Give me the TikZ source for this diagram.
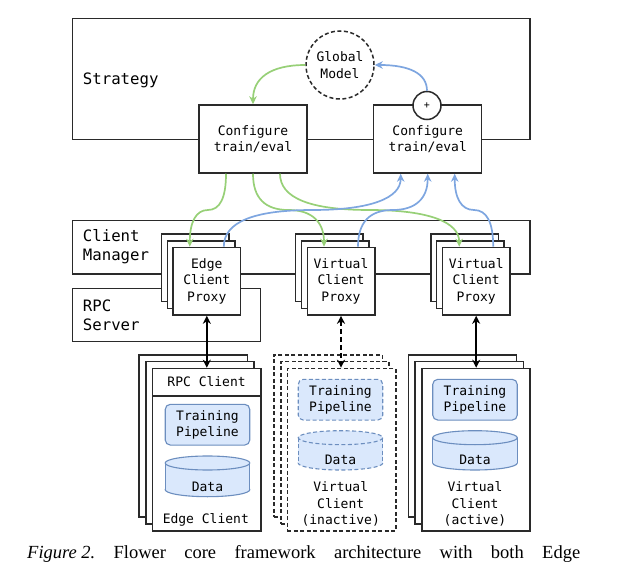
\documentclass[tikz,border=0pt]{standalone}
\usepackage{fontspec}
\setmainfont{Liberation Serif}
\setmonofont{DejaVu Sans Mono}
\usetikzlibrary{arrows.meta,calc,positioning}

\definecolor{pushgreen}{HTML}{97D077}
\definecolor{pullblue}{HTML}{7EA6E0}
\definecolor{pipefill}{HTML}{DAE8FC}
\definecolor{pipeedge}{HTML}{6C8EBF}
\definecolor{edgeline}{HTML}{2A2A2A}

\tikzset{
  box/.style={draw=edgeline, line width=1.5pt, fill=white, inner sep=0pt},
  layer/.style={box, anchor=north west},
  heading/.style={anchor=west, align=left, inner sep=0pt, font=\ttfamily\fontsize{15.7}{19}\selectfont},
  pipe/.style={draw=pipeedge, fill=pipefill, line width=1.1pt, rounded corners=5pt, align=center,
    minimum width=84.5, minimum height=40.7, inner sep=0pt},
  push/.style={draw=pushgreen, line width=1.7pt, -{Stealth[length=8pt,width=7.5pt,inset=2.5pt]}},
  pull/.style={draw=pullblue, line width=1.7pt, -{Stealth[length=8pt,width=7.5pt,inset=2.5pt]}},
  link/.style={draw=black, line width=1.9pt,
    arrows={Stealth[length=8pt,width=8pt,inset=2.5pt]-Stealth[length=8pt,width=8pt,inset=2.5pt]}},
  lazy/.style={dash pattern=on 4pt off 2.5pt},
}

\begin{document}
\begin{tikzpicture}[x=1pt, y=-1pt, font=\ttfamily\fontsize{13}{16.3}\selectfont]
\useasboundingbox (0,0) rectangle (619,575);

% server side layers
\node[layer, minimum width=457.5, minimum height=121] (strategy) at (71.5,17.7) {};
\node[heading] (strategy-lbl) at (82.7,80) {Strategy};
\node[layer, minimum width=457.5, minimum height=53] (manager) at (71.5,220) {};
\node[heading] (manager-lbl) at (82.7,247) {Client\\Manager};
\node[layer, minimum width=188, minimum height=53] (rpcserver) at (71.5,287.5) {};
\node[heading] (rpcserver-lbl) at (82.7,315) {RPC\\Server};

\node[box, minimum width=108, minimum height=68, align=center] (cfg-a) at (253,139) {Configure\\train/eval};
\node[box, minimum width=108, minimum height=68, align=center] (cfg-b) at (427.7,139) {Configure\\train/eval};
\node[box, circle, lazy, minimum size=68, align=center] (global) at (340,65) {Global\\Model};
\node[box, circle, minimum size=28] (agg) at (427,105.5) {\fontsize{10}{10}\selectfont+};

% client proxies
\foreach \who/\xl/\txt in {edge/172.3/{Edge\\Client\\Proxy}, vlazy/306.5/{Virtual\\Client\\Proxy}, vbusy/441.7/{Virtual\\Client\\Proxy}} {
  \foreach \k in {2,1}
    \node[layer, minimum width=67.5, minimum height=67.6] (px-\who-\k) at (\xl-5.8*\k, 246.7-6.7*\k) {};
  \node[layer, minimum width=67.5, minimum height=67.6, align=center] (px-\who) at (\xl,246.7) {\txt};
}

% clients
\foreach \who/\xl/\look in {edge/151.7/solid, vlazy/286.7/lazy, vbusy/421/solid} {
  \foreach \k in {2,1}
    \node[layer, \look, minimum width=108.3, minimum height=162.3] (cl-\who-\k) at (\xl-6.7*\k, 367.7-6.8*\k) {};
  \node[layer, \look, minimum width=108.3, minimum height=162.3] (cl-\who) at (\xl,367.7) {};
}
\node[layer, minimum width=108.3, minimum height=27.3] (rpc-client) at (151.7,367.7) {RPC Client};

\node[pipe] (tp-edge) at (207.5,424.7) {Training\\Pipeline};
\node[pipe, lazy] (tp-vlazy) at (340.5,399.7) {Training\\Pipeline};
\node[pipe] (tp-vbusy) at (475,399.7) {Training\\Pipeline};

\foreach \who/\cx/\ytop/\ybot/\look in {edge/207.5/456/496.7/solid, vlazy/340.5/430.7/470/lazy, vbusy/475/430.7/470/solid} {
  \draw[draw=pipeedge, fill=pipefill, line width=1.1pt, \look] (\cx,\ybot-7) ellipse [x radius=42.3, y radius=7];
  \fill[pipefill] (\cx-42.3,\ytop+7) rectangle (\cx+42.3,\ybot-7);
  \draw[pipeedge, line width=1.1pt, \look] (\cx-42.3,\ytop+7) -- (\cx-42.3,\ybot-7) (\cx+42.3,\ytop+7) -- (\cx+42.3,\ybot-7);
  \draw[draw=pipeedge, fill=pipefill, line width=1.1pt, \look] (\cx,\ytop+7) ellipse [x radius=42.3, y radius=7];
  \node (data-\who) at (\cx,\ybot-10) {Data};
}

\node[align=center] (cl-edge-lbl) at (205.8,520) {Edge Client};
\node[align=center] (cl-vlazy-lbl) at (340.7,504) {Virtual\\Client\\(inactive)};
\node[align=center] (cl-vbusy-lbl) at (475,504) {Virtual\\Client\\(active)};

% global model loop
\coordinate (knee-a) at (cfg-a.north |- global.west);
\coordinate (knee-b) at (agg.north |- global.east);
\draw[push] (global.west) .. controls ($(global.west)!2/3!(knee-a)$) and ($(cfg-a.north)!2/3!(knee-a)$) .. (cfg-a.north);
\draw[pull] (agg.north) .. controls ($(agg.north)!2/3!(knee-b)$) and ($(global.east)!2/3!(knee-b)$) .. (global.east);

% fit instructions down, results up
\coordinate (lane) at (0,210);
\coordinate (out-1) at ([xshift=-27pt]cfg-a.south);
\coordinate (out-2) at (cfg-a.south);
\coordinate (out-3) at ([xshift=27pt]cfg-a.south);
\coordinate (back-1) at ([xshift=-27pt]cfg-b.south);
\coordinate (back-2) at (cfg-b.south);
\coordinate (back-3) at ([xshift=27pt]cfg-b.south);
\foreach \who in {edge, vlazy, vbusy} {
  \coordinate (in-\who) at ([xshift=-17pt]px-\who.north);
  \coordinate (up-\who) at ([xshift=17pt]px-\who.north);
}
\foreach \a/\b/\kind in {out-1/in-edge/push, out-2/in-vlazy/push, out-3/in-vbusy/push,
    up-edge/back-1/pull, up-vlazy/back-2/pull, up-vbusy/back-3/pull} {
  \coordinate (c1) at (\a |- lane);
  \coordinate (c2) at (\b |- lane);
  \coordinate (mid) at ($(c1)!.5!(c2)$);
  \draw[\kind] (\a) .. controls ($(\a)!2/3!(c1)$) and ($(mid)!2/3!(c1)$) .. (mid)
    .. controls ($(mid)!2/3!(c2)$) and ($(\b)!2/3!(c2)$) .. (\b);
}

% proxy to client
\draw[link] (px-edge.south) -- (px-edge.south |- cl-edge.north);
\draw[link, dash pattern=on 5pt off 3pt] (px-vlazy.south) -- (px-vlazy.south |- cl-vlazy.north);
\draw[link] (px-vbusy.south) -- (px-vbusy.south |- cl-vbusy.north);

\node[anchor=base west, inner sep=0pt, font=\rmfamily\fontsize{18.5}{22}\selectfont] (caption) at (27,558)
  {\frenchspacing\makebox[553pt][s]{\textit{Figure\kern4.5pt 2.} Flower core framework architecture with both Edge}};
\end{tikzpicture}
\end{document}
